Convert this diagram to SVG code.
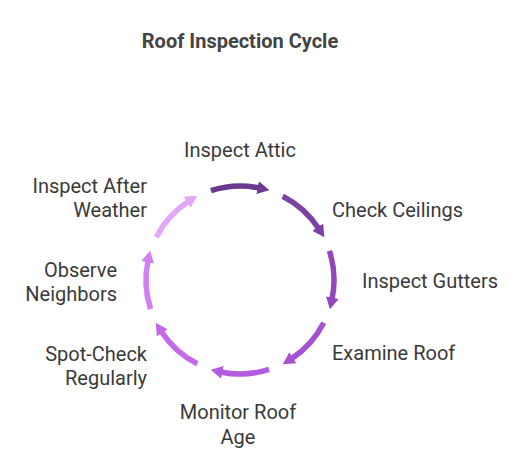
<svg xmlns="http://www.w3.org/2000/svg" width="528" height="465" viewBox="0 0 528 465">
<style>
.t{font-family:Roboto,"Liberation Sans",Arial,sans-serif;font-size:20px;fill:#3a3a3a}
.title{font-family:Roboto,"Liberation Sans",Arial,sans-serif;font-size:20px;font-weight:bold;fill:#444}
.arc{fill:none;stroke-width:5.5}
</style>
<defs>
<marker id="m1" markerUnits="userSpaceOnUse" markerWidth="14" markerHeight="14" refX="2" refY="6.5" orient="auto"><path d="M0,0 L12,6.5 L0,13 z" fill="#6b3a8e"/></marker>
<marker id="m2" markerUnits="userSpaceOnUse" markerWidth="14" markerHeight="14" refX="2" refY="6.5" orient="auto"><path d="M0,0 L12,6.5 L0,13 z" fill="#7d40a3"/></marker>
<marker id="m3" markerUnits="userSpaceOnUse" markerWidth="14" markerHeight="14" refX="2" refY="6.5" orient="auto"><path d="M0,0 L12,6.5 L0,13 z" fill="#9347bd"/></marker>
<marker id="m4" markerUnits="userSpaceOnUse" markerWidth="14" markerHeight="14" refX="2" refY="6.5" orient="auto"><path d="M0,0 L12,6.5 L0,13 z" fill="#a651d3"/></marker>
<marker id="m5" markerUnits="userSpaceOnUse" markerWidth="14" markerHeight="14" refX="2" refY="6.5" orient="auto"><path d="M0,0 L12,6.5 L0,13 z" fill="#b45ce0"/></marker>
<marker id="m6" markerUnits="userSpaceOnUse" markerWidth="14" markerHeight="14" refX="2" refY="6.5" orient="auto"><path d="M0,0 L12,6.5 L0,13 z" fill="#c469ea"/></marker>
<marker id="m7" markerUnits="userSpaceOnUse" markerWidth="14" markerHeight="14" refX="2" refY="6.5" orient="auto"><path d="M0,0 L12,6.5 L0,13 z" fill="#d17ff4"/></marker>
<marker id="m8" markerUnits="userSpaceOnUse" markerWidth="14" markerHeight="14" refX="2" refY="6.5" orient="auto"><path d="M0,0 L12,6.5 L0,13 z" fill="#e2a7f8"/></marker>
</defs>
<rect width="528" height="465" fill="#fff"/>
<text class="title" x="240" y="48" text-anchor="middle">Roof Inspection Cycle</text>
<g id="connectors">
<path class="arc" stroke="#6b3a8e" marker-end="url(#m1)" d="M210.95,190.6 A94,94 0 0 1 259.5,188.06"/>
<path class="arc" stroke="#7d40a3" marker-end="url(#m2)" d="M282.68,196.25 A94,94 0 0 1 318.84,228.81"/>
<path class="arc" stroke="#9347bd" marker-end="url(#m3)" d="M329.4,250.95 A94,94 0 0 1 331.94,299.55"/>
<path class="arc" stroke="#a651d3" marker-end="url(#m4)" d="M323.75,322.68 A94,94 0 0 1 291.19,358.84"/>
<path class="arc" stroke="#b45ce0" marker-end="url(#m5)" d="M269.05,369.4 A94,94 0 0 1 220.46,371.94"/>
<path class="arc" stroke="#c469ea" marker-end="url(#m6)" d="M197.32,363.75 A94,94 0 0 1 161.16,331.19"/>
<path class="arc" stroke="#d17ff4" marker-end="url(#m7)" d="M150.6,309.05 A94,94 0 0 1 148.06,260.46"/>
<path class="arc" stroke="#e2a7f8" marker-end="url(#m8)" d="M156.25,237.32 A94,94 0 0 1 188.81,201.16"/>
</g>
<g id="inspect-attic"><text class="t" x="240" y="157" text-anchor="middle">Inspect Attic</text></g>
<g id="check-ceilings"><text class="t" x="332" y="217">Check Ceilings</text></g>
<g id="inspect-gutters"><text class="t" x="362" y="288">Inspect Gutters</text></g>
<g id="examine-roof"><text class="t" x="332" y="360">Examine Roof</text></g>
<g id="monitor-roof-age"><text class="t" x="238" y="419" text-anchor="middle">Monitor Roof</text><text class="t" x="238" y="444" text-anchor="middle">Age</text></g>
<g id="spot-check"><text class="t" x="147" y="361" text-anchor="end">Spot-Check</text><text class="t" x="147" y="385" text-anchor="end">Regularly</text></g>
<g id="observe-neighbors"><text class="t" x="117" y="277" text-anchor="end">Observe</text><text class="t" x="117" y="301" text-anchor="end">Neighbors</text></g>
<g id="inspect-after-weather"><text class="t" x="147" y="193" text-anchor="end">Inspect After</text><text class="t" x="147" y="217" text-anchor="end">Weather</text></g>
</svg>
